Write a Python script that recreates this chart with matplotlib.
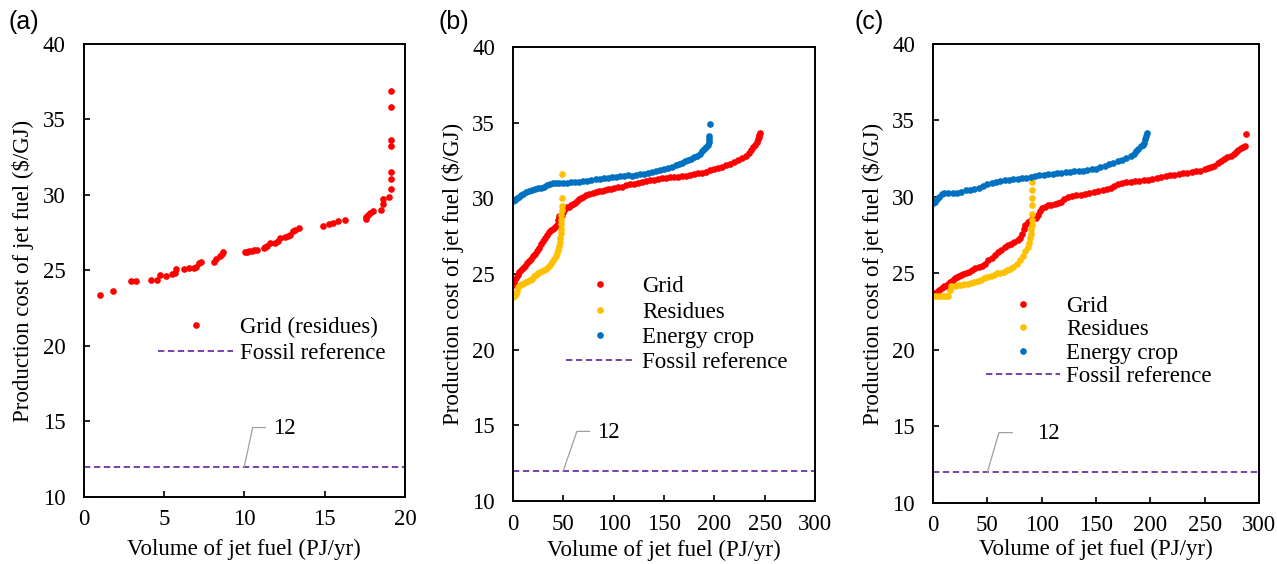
import matplotlib
matplotlib.use("Agg")
import matplotlib.pyplot as plt

plt.rcParams['font.family'] = ['Liberation Serif', 'DejaVu Serif']
plt.rcParams['font.size'] = 16.5

# colours used by the original (Excel-like palette)
RED = '#FF0000'
YELLOW = '#FFC000'
BLUE = '#0070C0'
PURPLE = '#7030A0'

fossil_ref = 12

# ---- panel (a): grid, residues only
a_grid_x = [1.03, 1.82, 2.93, 3.26, 4.21, 4.55, 4.73, 5.14, 5.52, 5.66,
            5.76, 6.24, 6.55, 6.86, 6.98, 7.17, 7.33, 8.10, 8.22, 8.47,
            8.62, 8.68, 10.02, 10.15, 10.27, 10.45, 10.58, 10.79, 11.2, 11.3,
            11.40, 11.57, 11.90, 12.07, 12.23, 12.54, 12.7, 12.85, 13.06, 13.15,
            13.43, 14.88, 15.29, 15.54, 15.85, 16.24, 17.56, 17.6, 17.67, 17.81,
            17.98, 18.53, 18.6, 18.64, 19.0, 19.11, 19.15, 19.15, 19.15, 19.15,
            19.15, 19.15]
a_grid_y = [23.40, 23.64, 24.29, 24.29, 24.36, 24.36, 24.67, 24.64, 24.74, 24.86,
            25.07, 25.07, 25.14, 25.17, 25.26, 25.48, 25.55, 25.55, 25.74, 25.93,
            26.10, 26.2, 26.22, 26.25, 26.29, 26.32, 26.34, 26.36, 26.46, 26.55,
            26.65, 26.79, 26.79, 26.93, 27.15, 27.22, 27.28, 27.36, 27.60, 27.65,
            27.84, 27.96, 28.08, 28.13, 28.27, 28.34, 28.44, 28.55, 28.67, 28.84,
            28.96, 29.03, 29.39, 29.75, 29.84, 30.39, 31.04, 31.51, 33.25, 33.61,
            35.8, 36.88]

# ---- panel (b)
b_grid_x = [0, 1.5, 3, 4.5, 6, 8, 10, 12, 14, 16, 18, 20, 22, 24, 26, 28, 30, 32, 34, 36,
            38, 40, 42, 43.5, 44.5, 45.5, 47, 48.5, 50, 52, 54, 56, 58, 60, 62, 64, 66, 68, 70, 73,
            76, 79, 82, 85, 88, 91, 94, 97, 100, 104, 108, 112, 116, 120, 124, 128, 132, 136, 140, 144,
            148, 152, 156, 160, 164, 168, 172, 176, 180, 184, 188, 192, 196, 200, 204, 208, 212, 216, 220, 224,
            228, 231, 234, 236, 238, 240, 242, 243, 244, 244.5, 245]
b_grid_y = [24.3, 24.5, 24.75, 24.95, 25.1, 25.25, 25.4, 25.55, 25.7, 25.85, 26.0, 26.2, 26.35, 26.55, 26.7, 26.95, 27.2, 27.4, 27.55, 27.75,
            27.9, 28.0, 28.1, 28.25, 28.6, 28.8, 28.85, 28.9, 29.1, 29.3, 29.4, 29.45, 29.55, 29.6, 29.7, 29.85, 29.95, 30.05, 30.1, 30.2,
            30.3, 30.35, 30.42, 30.46, 30.5, 30.55, 30.6, 30.64, 30.68, 30.73, 30.78, 30.85, 30.92, 30.97, 31.02, 31.08, 31.14, 31.2, 31.24, 31.28,
            31.31, 31.35, 31.38, 31.4, 31.44, 31.46, 31.5, 31.55, 31.6, 31.65, 31.7, 31.75, 31.85, 31.95, 32.0, 32.08, 32.2, 32.3, 32.4, 32.52,
            32.65, 32.8, 33.0, 33.2, 33.4, 33.5, 33.7, 33.9, 34.05, 34.2, 34.3]

b_res_x = [0, 1, 2, 3, 4, 5, 7, 9, 11, 13, 15, 17, 19, 21, 23, 25, 27, 29, 31, 33,
           35, 37, 39, 41, 42.5, 43.5, 44.5, 45.5, 46.3, 47, 47.5, 48, 48, 48, 48, 48.3, 48.3, 48.3, 48.3]
b_res_y = [23.5, 23.55, 23.6, 23.7, 23.9, 24.15, 24.25, 24.35, 24.4, 24.45, 24.55, 24.6, 24.7, 24.85, 24.95, 25.05, 25.12, 25.18, 25.25, 25.35,
           25.45, 25.6, 25.8, 26.0, 26.2, 26.4, 26.6, 26.85, 27.1, 27.4, 27.7, 28.0, 28.3, 28.6, 28.9, 29.2, 29.5, 30.0, 31.6]

b_crop_x = [0, 2, 4, 6, 8, 10, 13, 16, 19, 22, 25, 28, 31, 34, 37, 40, 43, 46, 50, 54,
            58, 62, 66, 70, 74, 78, 82, 86, 90, 94, 98, 102, 106, 110, 114, 118, 122, 126, 130, 134,
            138, 142, 146, 150, 154, 158, 162, 165, 168, 171, 174, 177, 180, 183, 186, 188, 190, 192, 193.5, 194.5,
            195, 195.2, 196]
b_crop_y = [29.8, 29.9, 30.0, 30.1, 30.2, 30.3, 30.4, 30.48, 30.55, 30.6, 30.65, 30.7, 30.76, 30.85, 30.92, 31.0, 31.03, 31.02, 31.0, 31.02,
            31.05, 31.07, 31.08, 31.12, 31.16, 31.2, 31.25, 31.28, 31.32, 31.36, 31.4, 31.44, 31.47, 31.5, 31.52, 31.5, 31.55, 31.58, 31.63, 31.68,
            31.74, 31.8, 31.88, 31.95, 32.0, 32.08, 32.18, 32.25, 32.35, 32.48, 32.55, 32.6, 32.7, 32.8, 32.95, 33.1, 33.25, 33.4, 33.55, 33.7,
            33.9, 34.1, 34.9]

# ---- panel (c)
c_grid_x = [0, 2, 4, 6, 8, 10, 12, 14, 16, 18, 20, 22, 24, 26, 28, 30, 33, 36, 39, 42,
            45, 48, 51, 54, 57, 60, 63, 66, 69, 72, 75, 78, 80, 82, 83.5, 85, 87, 89, 91, 93,
            95, 97, 98.5, 100, 103, 106, 109, 112, 115, 118, 121, 124, 128, 132, 136, 140, 144, 148, 152, 156,
            160, 164, 167, 170, 174, 178, 182, 186, 190, 194, 198, 202, 206, 210, 214, 218, 222, 226, 230, 234,
            238, 242, 246, 250, 253, 256, 259, 262, 265, 268, 271, 274, 277, 279, 281, 283, 285, 287, 288]
c_grid_y = [23.6, 23.7, 23.8, 23.95, 24.05, 24.15, 24.2, 24.3, 24.45, 24.6, 24.7, 24.8, 24.85, 24.9, 24.95, 25.0, 25.1, 25.25, 25.35, 25.45,
            25.5, 25.65, 25.85, 26.0, 26.2, 26.4, 26.55, 26.7, 26.85, 26.95, 27.05, 27.2, 27.35, 27.6, 27.9, 28.2, 28.35, 28.45, 28.55, 28.6,
            28.65, 28.8, 29.1, 29.3, 29.35, 29.45, 29.5, 29.55, 29.62, 29.7, 29.9, 30.0, 30.05, 30.1, 30.15, 30.2, 30.28, 30.32, 30.4, 30.45,
            30.5, 30.6, 30.7, 30.85, 30.9, 30.95, 31.0, 31.03, 31.06, 31.1, 31.13, 31.18, 31.24, 31.3, 31.38, 31.42, 31.45, 31.5, 31.55, 31.6,
            31.63, 31.67, 31.72, 31.8, 31.88, 31.95, 32.05, 32.2, 32.35, 32.5, 32.6, 32.68, 32.78, 32.95, 33.1, 33.2, 33.25, 33.3, 34.1]

c_res_x = [0, 3, 6, 9, 12, 14, 15.5, 17, 20, 23, 26, 29, 32, 35, 38, 41, 44, 47, 50, 53,
           56, 59, 62, 65, 68, 71, 74, 77, 80, 82.5, 85, 87, 88.5, 89.5, 90, 90.5, 91, 91, 91.3, 91.3,
           91.3, 91.3, 91.3]
c_res_y = [23.55, 23.55, 23.55, 23.55, 23.5, 23.55, 23.9, 24.15, 24.2, 24.22, 24.25, 24.28, 24.3, 24.35, 24.45, 24.52, 24.6, 24.7, 24.78, 24.85,
           24.92, 25.0, 25.05, 25.12, 25.2, 25.3, 25.45, 25.65, 25.9, 26.15, 26.45, 26.75, 27.0, 27.3, 27.6, 27.9, 28.2, 28.5, 28.9, 29.45,
           29.95, 30.45, 30.95]

c_crop_x = [0, 2, 4, 6, 8, 10, 14, 18, 22, 26, 30, 34, 38, 42, 46, 50, 54, 58, 62, 66,
            70, 74, 78, 82, 86, 90, 94, 98, 102, 106, 110, 114, 118, 122, 126, 130, 134, 138, 142, 146,
            150, 154, 158, 162, 166, 170, 174, 178, 182, 185, 187, 189, 191, 193, 194.5, 195.5, 196, 196.5]
c_crop_y = [29.6, 29.7, 29.85, 30.0, 30.2, 30.25, 30.25, 30.25, 30.25, 30.35, 30.45, 30.45, 30.5, 30.6, 30.75, 30.85, 30.92, 31.0, 31.05, 31.08,
            31.1, 31.15, 31.2, 31.22, 31.27, 31.32, 31.38, 31.43, 31.45, 31.47, 31.5, 31.55, 31.58, 31.62, 31.64, 31.67, 31.7, 31.73, 31.77, 31.8,
            31.85, 31.95, 32.05, 32.15, 32.25, 32.35, 32.45, 32.55, 32.65, 32.8, 33.0, 33.15, 33.3, 33.4, 33.55, 33.8, 34.0, 34.15]


fig = plt.figure(figsize=(12.77, 5.64), dpi=100)
ax_a = fig.add_axes([0.0654, 0.1188, 0.2518, 0.8032])
ax_b = fig.add_axes([0.4017, 0.1117, 0.2365, 0.8050])
ax_c = fig.add_axes([0.7306, 0.1082, 0.2553, 0.8138])

ms = 4.8
FS = 16.5


def dots(ax, x, y, color, label):
    ax.plot(x, y, ls='none', marker='o', ms=ms, mew=0, color=color, label=label)


def style_axes(ax, xmax, xstep, xlabelpad):
    ax.set_xlim(0, xmax)
    ax.set_ylim(10, 40)
    ax.set_xticks(range(0, xmax + 1, xstep))
    ax.set_yticks(range(10, 41, 5))
    ax.tick_params(direction='in', length=4, width=1.2, labelsize=FS)
    ax.tick_params(axis='y', pad=13)
    ax.tick_params(axis='x', pad=9)
    for sp in ax.spines.values():
        sp.set_linewidth(1.4)
    ax.set_xlabel('Volume of jet fuel (PJ/yr)', fontsize=FS, labelpad=xlabelpad)
    ax.set_ylabel('Production cost of jet fuel (\\$/GJ)', fontsize=FS, labelpad=6)


def fossil(ax, x_foot, x_knee, x_end, x_text):
    ax.axhline(fossil_ref, color=PURPLE, lw=1.3, ls=(0, (3.5, 2)), label='Fossil reference')
    # Excel-style data label with a leader line
    ax.plot([x_foot, x_knee, x_end], [fossil_ref, 14.6, 14.6], color='#A0A0A0', lw=0.9)
    ax.text(x_text, 14.55, str(fossil_ref), fontsize=FS, va='center', ha='left')


def legend(ax, x, y, hlen, pad, spacing):
    ax.legend(loc='center left', bbox_to_anchor=(x, y), frameon=False,
              handlelength=hlen, handletextpad=pad, labelspacing=spacing,
              borderpad=0, borderaxespad=0, numpoints=1, fontsize=FS)


# (a)
dots(ax_a, a_grid_x, a_grid_y, RED, 'Grid (residues)')
fossil(ax_a, 10, 10.52, 11.3, 11.8)
style_axes(ax_a, 20, 5, 6)
legend(ax_a, 0.233, 0.346, 3.25, 0.3, 0.24)

# (b)
dots(ax_b, b_grid_x, b_grid_y, RED, 'Grid')
dots(ax_b, b_res_x, b_res_y, YELLOW, 'Residues')
dots(ax_b, b_crop_x, b_crop_y, BLUE, 'Energy crop')
fossil(ax_b, 50, 63.5, 76, 84)
style_axes(ax_b, 300, 50, 3.5)
legend(ax_b, 0.175, 0.388, 3.0, 0.33, 0.185)

# (c)
dots(ax_c, c_grid_x, c_grid_y, RED, 'Grid')
dots(ax_c, c_res_x, c_res_y, YELLOW, 'Residues')
dots(ax_c, c_crop_x, c_crop_y, BLUE, 'Energy crop')
fossil(ax_c, 50, 60.7, 73, 96)
style_axes(ax_c, 300, 50, 2)
legend(ax_c, 0.164, 0.352, 3.2, 0.28, 0.105)

for lab, xpos in [('(a)', 8), ('(b)', 438), ('(c)', 854)]:
    fig.text(xpos / 1277, 1 - 22 / 564, lab, fontsize=18, family='Liberation Sans',
             ha='left', va='center')

fig.savefig('out.png', dpi=100)
